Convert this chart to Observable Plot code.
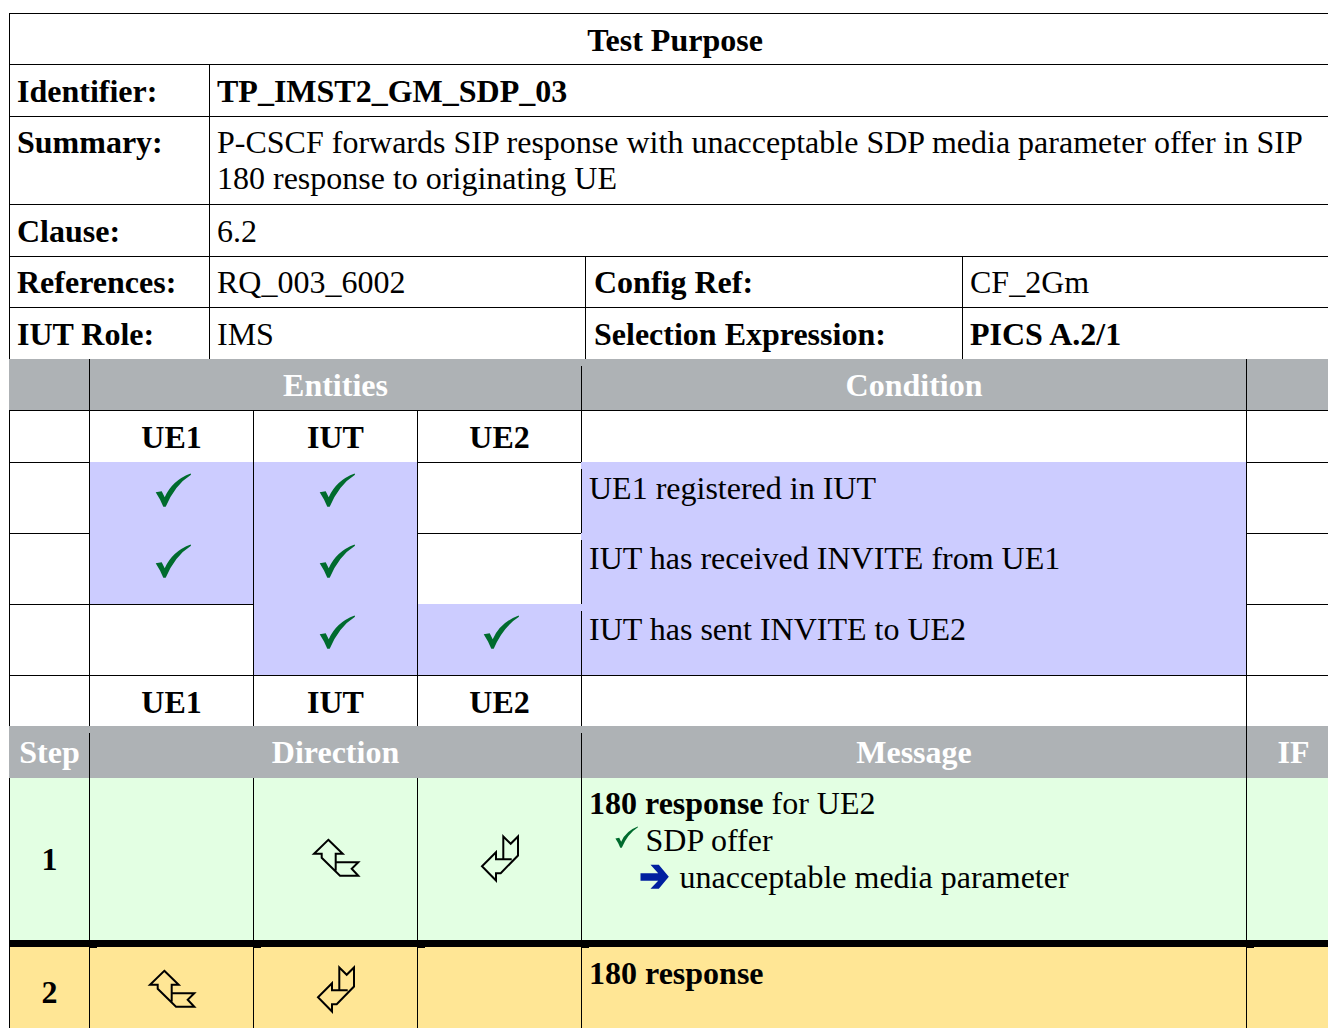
<!DOCTYPE html>
<html>
<head>
<meta charset="utf-8">
<style>html,body{margin:0;padding:0;background:#fff}svg{display:block}</style>
<script src="https://cdn.jsdelivr.net/npm/d3@7"></script>
<script src="https://cdn.jsdelivr.net/npm/@observablehq/plot@0.6"></script>
</head>
<body>
<script>
// Table grid: cells below are given by column / row number; these map them onto the page.
const colEdges = [9, 89, 209, 253, 417, 581, 585, 962, 1246, 1340];
const rowEdges = [13, 64, 116, 204, 256, 307, 359, 410, 462, 533, 604, 675, 726, 778, 943, 1040];
const rowTextShift = [1, 1, 0, 1, 0, 1, 0, 1, 0, -1, -1, 1, 0, 0, 0, 0];
const colTextShift = [0, 0, 0, 0, 0, 0, 1, 0, 0, 0];
const xAt = i => colEdges[i];
const yAt = i => rowEdges[i];
const xText = i => colEdges[i] + colTextShift[i];
const yText = i => rowEdges[i] + rowTextShift[i];
const midCol = (a, b) => (xAt(a) + xAt(b)) / 2;
const midRow = (a, b) => (yAt(a) + yAt(b)) / 2;

// Shaded blocks [col from, col to, row from, row to]
const grayBlocks = [[0, 9, 6, 7], [0, 9, 12, 13]];
const purpleBlocks = [[5, 8, 8, 11], [1, 3, 8, 10], [3, 4, 8, 11], [4, 5, 10, 11]];
const greenBlocks = [[0, 9, 13, 14]];
const yellowBlocks = [[0, 9, 14, 15]];

// Horizontal rules [row, col from, col to]
const hLines = [
  [0, 0, 9], [1, 0, 9], [2, 0, 9], [3, 0, 9], [4, 0, 9], [5, 0, 9], [7, 0, 9],
  [8, 0, 1], [8, 4, 5], [8, 8, 9], [9, 0, 1], [9, 4, 5], [9, 8, 9],
  [10, 0, 3], [10, 8, 9], [11, 0, 9]
];
// Vertical rules [col, row from, row to]
const vLines = [
  [0, 0, 6], [0, 7, 12], [0, 13, 15],
  [1, 6, 12], [1, 13, 15],
  [2, 1, 6],
  [3, 7, 12], [3, 13, 15],
  [4, 7, 12], [4, 13, 15],
  [5, 7, 8], [5, 11, 12], [5, 13, 15],
  [6, 4, 6], [7, 4, 6],
  [8, 6, 15]
];
// Vertical rules that start a little below the top of their row
const vLinesShort = [[1, 12, 13], [5, 6, 7], [5, 8, 9], [5, 9, 10], [5, 10, 11], [5, 12, 13]];
const heavyLine = [[14, 0, 9]];
const heavyNotches = [1, 3, 4, 5, 8];

// Text: bold left-aligned labels [text, col, row]
const boldLabels = [
  ["Identifier:", 0, 1], ["TP_IMST2_GM_SDP_03", 2, 1],
  ["Summary:", 0, 2], ["Clause:", 0, 3], ["References:", 0, 4],
  ["Config Ref:", 6, 4], ["IUT Role:", 0, 5],
  ["Selection Expression:", 6, 5], ["PICS A.2/1", 7, 5]
];
const plainLabels = [
  ["P-CSCF forwards SIP response with unacceptable SDP media parameter offer in SIP", 2, 2],
  ["6.2", 2, 3], ["RQ_003_6002", 2, 4], ["CF_2Gm", 7, 4], ["IMS", 2, 5],
  ["UE1 registered in IUT", 5, 8],
  ["IUT has received INVITE from UE1", 5, 9],
  ["IUT has sent INVITE to UE2", 5, 10]
];
const summaryLine2 = [["180 response to originating UE", 2, 2]];
// Centred bold cells [text, col from, col to, row]
const centredBlack = [
  ["Test Purpose", 0, 9, 0],
  ["UE1", 1, 3, 7], ["IUT", 3, 4, 7], ["UE2", 4, 5, 7],
  ["UE1", 1, 3, 11], ["IUT", 3, 4, 11], ["UE2", 4, 5, 11]
];
const centredWhite = [
  ["Entities", 1, 5, 6], ["Condition", 5, 8, 6],
  ["Step", 0, 1, 12], ["Direction", 1, 5, 12], ["Message", 5, 8, 12], ["IF", 8, 9, 12]
];
const stepOne = [["1", 13]];
const stepTwo = [["2", 14]];

// Check marks and arrows [col from, col to, row]
const checks = [[1, 3, 8], [3, 4, 8], [1, 3, 9], [3, 4, 9], [3, 4, 10], [4, 5, 10]];
const arrowsToIut = [[3, 4, 13], [1, 3, 14]];
const arrowsFromIut = [[4, 5, 13], [3, 4, 14]];

const SERIF = "'Liberation Serif', 'Times New Roman', serif";
const FONT = 32;

function checkSymbol(k) {
  return {draw(c) {
    c.moveTo(-15.8 * k, -4.8 * k);
    c.lineTo(-9.8 * k, -5.8 * k);
    c.lineTo(-6.8 * k, 0.2 * k);
    c.quadraticCurveTo(0.8 * k, -16.75 * k, 19.2 * k, -23.5 * k);
    c.lineTo(19.5 * k, -22.2 * k);
    c.quadraticCurveTo(3.55 * k, -12.2 * k, -5.8 * k, 9.8 * k);
    c.lineTo(-8.2 * k, 9.8 * k);
    c.lineTo(-11.5 * k, 2.5 * k);
    c.closePath();
  }};
}
function polySymbol(polys) {
  return {draw(c) {
    for (const {pts, closed} of polys) {
      pts.forEach(([x, y], i) => i ? c.lineTo(x, y) : c.moveTo(x, y));
      if (closed) c.closePath();
    }
  }};
}
const arrowLeftUp = polySymbol([
  {closed: true, pts: [[-7.2, -20.2], [7.2, -6.2], [0.2, -6.2], [0.2, 2.2], [22.8, 2.2], [16.2, 8.8], [22.8, 15.8], [4.5, 15.8], [-13.8, -2.2], [-13.8, -6.2], [-21.5, -6.2]]},
  {closed: false, pts: [[0.2, 2.2], [0.2, 10.5]]}
]);
const arrowDownLeft = polySymbol([
  {closed: true, pts: [[3.8, -23.5], [11.2, -16.2], [18.5, -23.5], [18.5, -4.5], [1.2, 13.2], [-3.5, 13.2], [-3.5, 20.5], [-17.5, 6.2], [-3.5, -7.8], [-3.5, -0.8], [3.8, -0.8]]},
  {closed: false, pts: [[3.8, -0.8], [12.2, -0.8]]}
]);
const blueArrow = polySymbol([
  {closed: true, pts: [[14.3, 0], [4.3, -12], [-4, -12], [3.7, -3.6], [-14, -3.6], [-14, 4], [3.7, 4], [-4, 12], [4.3, 12]]}
]);

const blocks = (data, fill) => Plot.rect(data, {x1: d => xAt(d[0]), x2: d => xAt(d[1]), y1: d => yAt(d[2]), y2: d => yAt(d[3]), fill});
const texts = (data, o) => Plot.text(data, {
  text: d => d[0], lineAnchor: "bottom", fontFamily: SERIF, fontSize: FONT, fill: "#000", ...o
});
const leftAt = (data, o) => texts(data, {x: d => xText(d[1]), y: d => yText(d[2]), textAnchor: "start", dx: 7.5, dy: 36, ...o});
const centred = (data, fill) => texts(data, {x: d => midCol(d[1], d[2]), y: d => yText(d[3]), textAnchor: "middle", fontWeight: "bold", fill, dy: 36});
const symbolAt = (data, symbol, o) => Plot.dot(data, {x: d => midCol(d[0], d[1]), y: d => midRow(d[2], d[2] + 1), r: 1, symbol, dy: -1, ...o});
const rowStart = (row) => [[5, row]];

const chart = Plot.plot({
  width: 1328,
  height: 1028,
  margin: 0,
  style: {background: "#fff"},
  x: {domain: [0, 1328], range: [0, 1328], axis: null},
  y: {domain: [0, 1028], range: [0, 1028], axis: null},
  marks: [
    blocks(grayBlocks, "#aeb2b5"),
    blocks(purpleBlocks, "#ccccff"),
    blocks(greenBlocks, "#e3ffe3"),
    blocks(yellowBlocks, "#ffe695"),
    Plot.ruleY(hLines, {y: d => yAt(d[0]), x1: d => xAt(d[1]), x2: d => xAt(d[2]), stroke: "#000", strokeWidth: 1}),
    Plot.ruleX(vLines, {x: d => xAt(d[0]), y1: d => yAt(d[1]), y2: d => yAt(d[2]), stroke: "#000", strokeWidth: 1}),
    Plot.ruleX(vLinesShort, {x: d => xAt(d[0]), y1: d => yAt(d[1]), y2: d => yAt(d[2]), insetTop: 7, stroke: "#000", strokeWidth: 1}),
    Plot.ruleY(heavyLine, {y: d => yAt(d[0]), x1: d => xAt(d[1]), x2: d => xAt(d[2]), stroke: "#000", strokeWidth: 7}),
    Plot.rect(heavyNotches, {x1: d => xAt(d), x2: d => xAt(d), y1: () => yAt(14), y2: () => yAt(14), insetRight: -8, insetTop: 4, insetBottom: -5, fill: "#000"}),
    leftAt(boldLabels, {fontWeight: "bold"}),
    leftAt(plainLabels, {}),
    leftAt(summaryLine2, {dy: 72}),
    centred(centredBlack, "#000"),
    centred(centredWhite, "#fff"),
    texts(stepOne, {x: () => midCol(0, 1), y: d => yAt(d[1]), textAnchor: "middle", fontWeight: "bold", dy: 91}),
    texts(stepTwo, {x: () => midCol(0, 1), y: d => yAt(d[1]), textAnchor: "middle", fontWeight: "bold", dy: 59}),
    leftAt([["180 response", 5, 13]], {fontWeight: "bold", dy: 35}),
    leftAt([["for UE2", 5, 13]], {dx: 190, dy: 35}),
    leftAt([["SDP offer", 5, 13]], {dx: 64, dy: 72}),
    leftAt([["unacceptable media parameter", 5, 13]], {dx: 98, dy: 109}),
    leftAt([["180 response", 5, 14]], {fontWeight: "bold", dy: 40}),
    symbolAt(checks, checkSymbol(1), {fill: "#006b2e", stroke: "none"}),
    symbolAt(arrowsToIut, arrowLeftUp, {fill: "none", stroke: "#000", strokeWidth: 2}),
    symbolAt(arrowsFromIut, arrowDownLeft, {fill: "none", stroke: "#000", strokeWidth: 2}),
    Plot.dot(rowStart(13), {x: d => xAt(d[0]), y: d => yAt(d[1]), r: 1, symbol: checkSymbol(0.64), dx: 44, dy: 63, fill: "#006b2e", stroke: "none"}),
    Plot.dot(rowStart(13), {x: d => xAt(d[0]), y: d => yAt(d[1]), r: 1, symbol: blueArrow, dx: 73, dy: 98.3, fill: "#0020a0", stroke: "none"})
  ]
});
document.body.appendChild(chart);
</script>
</body>
</html>
